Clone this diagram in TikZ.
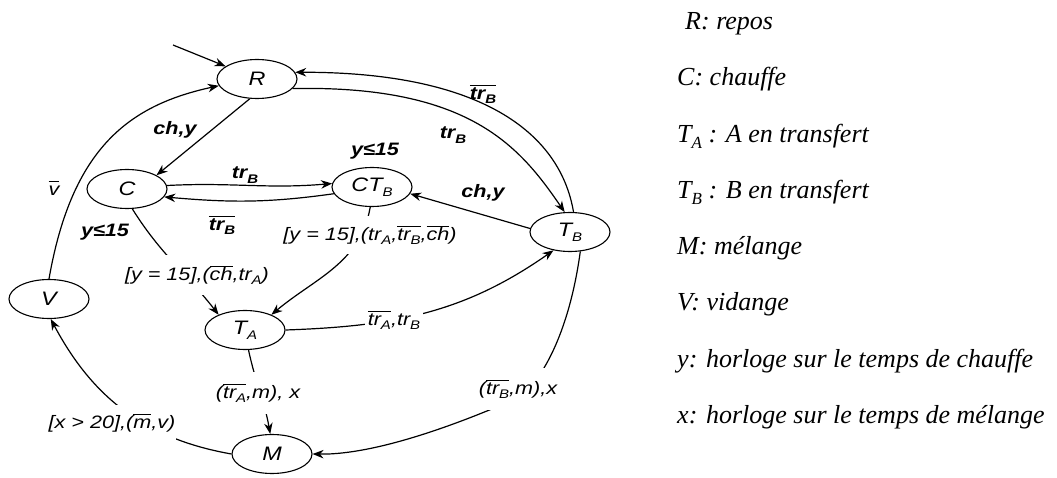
\documentclass[tikz,border=0pt]{standalone}
\usepackage{fontspec}
\setmainfont{Liberation Serif}
\newfontfamily\labfont[FakeStretch=1.2]{Liberation Sans}
\usetikzlibrary{shapes.geometric,arrows.meta}
\newcommand\sbs[1]{\raisebox{-0.45ex}{\fontsize{12.5}{12.5}\selectfont #1}}
\newcommand\lsb[1]{\raisebox{-0.45ex}{\fontsize{17}{17}\selectfont #1}}
\newcommand\ovl[1]{$\overline{\hbox{\vphantom{th}#1}}$}
\tikzset{
 st/.style={ellipse, draw, line width=1.1pt, minimum width=80pt, minimum height=39pt, inner sep=0pt, font=\labfont\itshape\fontsize{19.5}{19.5}\selectfont},
 tr/.style={line width=1.2pt, -{Stealth[length=11pt,width=8.5pt,inset=3.5pt]}},
 lb/.style={font=\labfont\itshape\fontsize{18}{18}\selectfont, inner sep=1pt},
 lbb/.style={font=\labfont\bfseries\itshape\fontsize{18}{18}\selectfont, inner sep=1pt},
 gap/.style={lb, fill=white},
 leg/.style={anchor=base west, font=\itshape\fontsize{26}{26}\selectfont, inner sep=0pt},
}
\begin{document}
\begin{tikzpicture}[x=1pt,y=1pt]
\useasboundingbox (0,0) rectangle (1057,477);
% states
\node[st] (R) at (257,398) {R};
\node[st] (C) at (127,288) {C};
\node[st] (CT) at (372,290) {CT\sbs{B}};
\node[st] (TB) at (570,245) {T\sbs{B}};
\node[st] (V) at (49,178) {V};
\node[st] (TA) at (245,147) {T\sbs{A}};
\node[st] (M) at (272,23) {M};
\coordinate (init) at (173,432);
% transitions
\draw[tr] (init) -- (R);
\draw[tr] (V.north) .. controls (72,330) and (130,372) .. (R.190);
\draw[tr] (R.250) -- (C.25);
\draw[tr] (R.-15) .. controls (470,392) and (520,330) .. (TB.105);
\draw[tr] (TB.80) .. controls (560,345) and (480,405) .. (R.10);
\draw[tr] (C.5) to[out=3,in=185] (CT.175);
\draw[tr] (CT.190) to[out=188,in=-5] (C.-12);
\draw[tr] (TB.175) -- (CT.-10);
\draw[tr] (C.-75) to[out=-58,in=128] (TA.150);
\draw[tr] (CT.-95) to[out=-100,in=40] (TA.30);
\draw[tr] (TA.east) to[out=2,in=215] (TB.228);
\draw[tr] (TA.-80) to[out=-78,in=100] (M.95);
\draw[tr] (TB.-62) .. controls (570,150) and (545,100) .. (520,80) .. controls (470,58) and (380,22) .. (M.east);
\draw[tr] (M.west) to[out=170,in=-62] (V.-85);
% labels
\node[lb] (lv) at (54,289) {\ovl{v}};
\node[lbb] (lrc) at (175,347) {ch,y};
\node[lbb] (lcct) at (245,302) {tr\sbs{B}};
\node[lbb] (lctc) at (222,252) {\ovl{tr\sbs{B}}};
\node[lbb] (ic) at (105,245) {y≤15};
\node[lbb] (ict) at (375,326) {y≤15};
\node[lbb] (ltbct) at (483,284) {ch,y};
\node[lbb] (lrtb) at (453,342) {tr\sbs{B}};
\node[lbb] (ltbr) at (483,383) {\ovl{tr\sbs{B}}};
\node[gap, inner ysep=10pt] (lcta) at (197,202) {[y = 15],(\ovl{ch},tr\sbs{A})};
\node[gap, inner ysep=9pt] (lctta) at (370,242) {[y = 15],(tr\sbs{A},\ovl{tr\sbs{B}},\ovl{ch})};
\node[gap, inner xsep=3pt] (ltatb) at (394,157) {\ovl{tr\sbs{A}},tr\sbs{B}};
\node[gap, inner ysep=11pt] (ltam) at (258,84) {(\ovl{tr\sbs{A}},m), x};
\node[gap, inner ysep=11pt] (ltbm) at (518,88) {(\ovl{tr\sbs{B}},m),x};
\node[gap, inner ysep=9pt] (lmv) at (112,54) {[x > 20],(\ovl{m},v)};
% legend
\node[leg] (g1) at (685,447) {R: repos};
\node[leg] (g2) at (677,391) {C: chauffe};
\node[leg] (g3) at (677,334) {T\lsb{A} : A en transfert};
\node[leg] (g4) at (677,278) {T\lsb{B} : B en transfert};
\node[leg] (g5) at (677,222) {M: mélange};
\node[leg] (g6) at (677,167) {V: vidange};
\node[leg] (g7) at (677,110) {y: horloge sur le temps de chauffe};
\node[leg] (g8) at (677,54) {x: horloge sur le temps de mélange};
\end{tikzpicture}
\end{document}
